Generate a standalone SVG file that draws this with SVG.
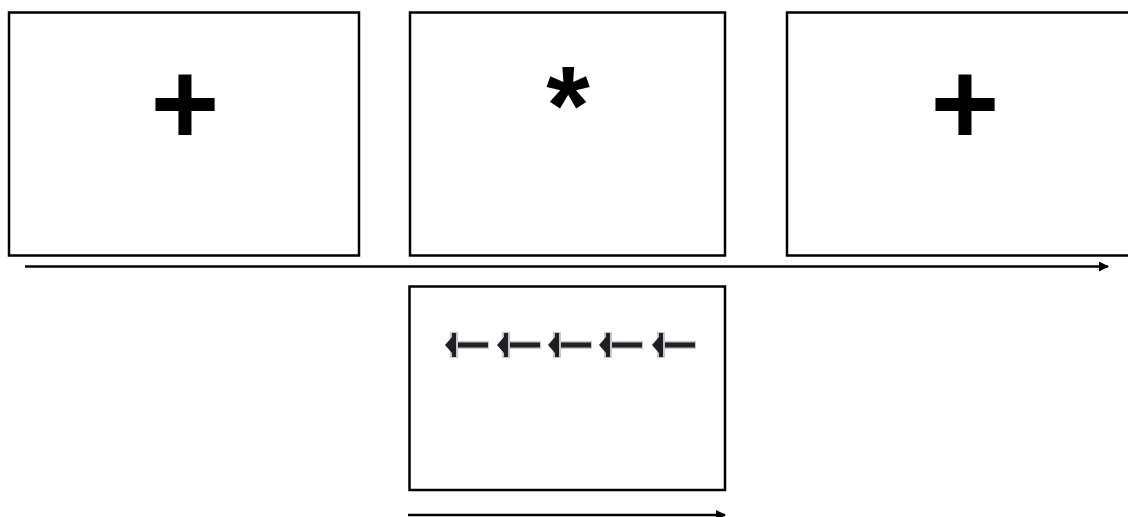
<svg xmlns="http://www.w3.org/2000/svg" width="1128" height="517" viewBox="0 0 1128 517">
<style>
.box{fill:#fff;stroke:#000;stroke-width:2.5}
.sym{font-family:"Liberation Sans",Arial,sans-serif;font-weight:bold;fill:#000;text-anchor:middle}
.line{stroke:#000;stroke-width:2.5;fill:none}
.ah{fill:#1f1f24}
.halo{fill:#c8c8cc}
</style>
<defs>
<marker id="arr" markerWidth="10" markerHeight="10" refX="9" refY="5" orient="auto" markerUnits="userSpaceOnUse">
<path d="M0,0 L10,5 L0,10 Z" fill="#000"/>
</marker>
<g id="la">
<rect class="halo" x="6" y="-4" width="38" height="8"/>
<rect class="ah" x="8" y="-2.5" width="35" height="5"/>
<rect class="halo" x="5" y="-13" width="8" height="26"/>
<path class="ah" d="M0,0 L7,-8 L7,-12 L11,-12 L11,12 L7,12 L7,8 Z"/>
</g>
</defs>
<g id="connectors">
<line class="line" x1="25" y1="266.5" x2="1108" y2="266.5" marker-end="url(#arr)"/>
<line class="line" x1="408" y1="515" x2="725" y2="515" marker-end="url(#arr)"/>
</g>
<g id="frame1">
<rect class="box" x="9" y="12.5" width="350" height="243"/>
<text class="sym" x="185" y="144" font-size="118">+</text>
</g>
<g id="frame2">
<rect class="box" x="410" y="12.5" width="315" height="243"/>
<text class="sym" x="568" y="144" font-size="112">*</text>
</g>
<g id="frame3">
<rect class="box" x="787" y="12.5" width="350" height="243"/>
<text class="sym" x="965" y="144" font-size="118">+</text>
</g>
<g id="frame4">
<rect class="box" x="409.5" y="286.5" width="315.5" height="203.5"/>
<use href="#la" x="445" y="345"/>
<use href="#la" x="497" y="345"/>
<use href="#la" x="548" y="345"/>
<use href="#la" x="599" y="345"/>
<use href="#la" x="652" y="345"/>
</g>
</svg>
